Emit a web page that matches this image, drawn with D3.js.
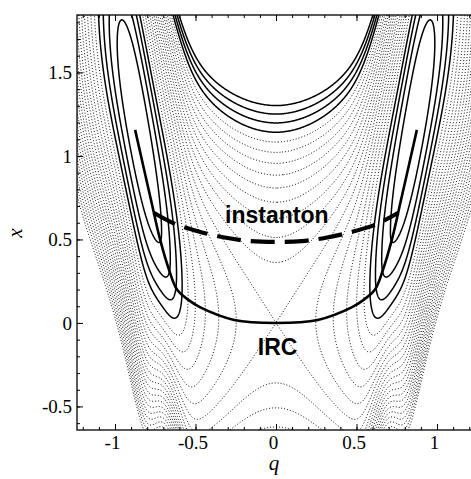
<!DOCTYPE html>
<html>
<head>
<meta charset="utf-8">
<script src="https://cdn.jsdelivr.net/npm/d3@7"></script>
<style>
body { margin: 0; background: #fff; }
svg { display: block; }
.tick text { font-family: "Liberation Serif", "Times New Roman", serif; font-size: 19px; fill: #000; }
.tick line { stroke: #000; stroke-width: 1; }
</style>
</head>
<body>
<svg id="chart" width="471" height="479"></svg>
<script>
// --- values ---
// potential: two wells at q = +-wellQ, a saddle at (0,0),
// valley in x climbing steeply between |q| ~ 0.6 and 1
var wellQ = 0.86;
var wellA = 1.5;            // quartic double well in q
var innerEdge = 0.6;        // steep inner side of the wells
var innerWidth = 0.05;
var outerK = 3;             // extra rise outside the wells
var valleyTop = 2.1;
var valleyMid = 0.83;
var valleyWidth = 0.114;
var lowStiff = 1.3;         // stiffer in x below the valley near |q| ~ 0.66
var lowMid = 0.66;
var lowWidth = 0.1;
var levelStep = 0.13;       // spacing between contour levels
var saddleLevel = 10;       // the saddle sits on the 10th level
var contourLevels = d3.range(1, 24);   // levels 1..23
var solidLow = [1, 2, 3, 4];          // drawn solid round the wells
var solidTop = [20, 21, 22, 23];      // drawn solid at the top centre

var qTicks = [-1, -0.5, 0, 0.5, 1];
var xTicks = [-0.5, 0, 0.5, 1, 1.5];
var qMinor = d3.range(-12, 13).map(d => d / 10);
var xMinor = d3.range(-6, 19).map(d => d / 10);

// minimum energy path (IRC)
var ircQ = [-0.875, -0.775, -0.72, -0.665, -0.615, -0.54, -0.47, -0.26, 0, 0.26, 0.47, 0.54, 0.615, 0.665, 0.72, 0.775, 0.875];
var ircX = [1.156, 0.73, 0.5, 0.32, 0.2, 0.135, 0.093, 0.018, 0, 0.018, 0.093, 0.135, 0.2, 0.32, 0.5, 0.73, 1.156];

// instanton path
var instQ = [-0.76, -0.62, -0.47, -0.31, -0.16, 0, 0.16, 0.31, 0.47, 0.62, 0.76];
var instX = [0.66, 0.59, 0.545, 0.51, 0.49, 0.485, 0.49, 0.51, 0.545, 0.59, 0.66];

// --- layout ---
var pLeft = 77, pRight = 475, pTop = 15, pBottom = 430;
var qScale = d3.scaleLinear().domain([-1.236, 1.236]).range([pLeft, pRight]);
var xScale = d3.scaleLinear().domain([-0.641, 1.844]).range([pBottom, pTop]);

var svg = d3.select("#chart");
var defs = svg.append("defs");
defs.append("clipPath").attr("id", "plot")
    .append("rect").attr("x", pLeft).attr("y", pTop)
    .attr("width", pRight - pLeft).attr("height", pBottom - pTop);

// region of the top centre where the high levels are drawn solid
var uq = 0.85, ux = 0.6;
var holeD = "M" + qScale(-uq) + "," + xScale(1.9) + "H" + qScale(uq) + "V" + xScale(ux) + "H" + qScale(-uq) + "Z";
defs.append("clipPath").attr("id", "topU")
    .append("path").attr("d", holeD);
defs.append("clipPath").attr("id", "noTopU")
    .append("path").attr("clip-rule", "evenodd")
    .attr("d", "M" + pLeft + "," + pTop + "H" + pRight + "V" + pBottom + "H" + pLeft + "Z " + holeD);

// --- potential on a grid ---
function sigm(t) { return 1 / (1 + Math.exp(-t)); }
function valley(q) {
    return valleyTop * sigm((Math.abs(q) - valleyMid) / valleyWidth);
}
var innerStep = saddleLevel * levelStep - wellA * Math.pow(wellQ, 4);
function V(q, x) {
    var a = Math.abs(q);
    var w = q * q - wellQ * wellQ;
    var g = wellA * w * w + innerStep * (1 - sigm((a - innerEdge) / innerWidth));
    if (a > wellQ) g += outerK * (a - wellQ) * (a - wellQ);
    var u = x - valley(q);
    var b = u < 0 ? 1 + lowStiff * Math.exp(-Math.pow((a - lowMid) / lowWidth, 2)) : 1;
    return g + b * u * u;
}
var nq = 520, nx = 520;
var qLo = -1.3, qHi = 1.3, xLo = -0.7, xHi = 1.9;
var dq = (qHi - qLo) / (nq - 1), dx = (xHi - xLo) / (nx - 1);
var values = new Float64Array(nq * nx);
for (var j = 0; j < nx; j++) {
    var xv = xHi - j * dx;
    for (var i = 0; i < nq; i++) values[j * nq + i] = V(qLo + i * dq, xv);
}
var contours = d3.contours().size([nq, nx])
    .thresholds(contourLevels.map(k => k * levelStep))(values);
contours.forEach((c, i) => c.level = contourLevels[i]);

var grid = d3.geoTransform({
    point: function (cx, cy) {
        this.stream.point(qScale(qLo + (cx - 0.5) * dq), xScale(xHi - (cy - 0.5) * dx));
    }
});
var path = d3.geoPath(grid);

var plot = svg.append("g").attr("clip-path", "url(#plot)");

// dotted contours
plot.append("g").selectAll("path")
    .data(contours.filter(c => solidLow.indexOf(c.level) < 0))
    .enter().append("path")
    .attr("d", path)
    .attr("clip-path", c => solidTop.indexOf(c.level) >= 0 ? "url(#noTopU)" : null)
    .attr("fill", "none")
    .attr("stroke", "#000")
    .attr("stroke-width", 1)
    .attr("stroke-dasharray", "1 2");

// solid contours round the wells
plot.append("g").selectAll("path")
    .data(contours.filter(c => solidLow.indexOf(c.level) >= 0))
    .enter().append("path")
    .attr("d", path)
    .attr("fill", "none")
    .attr("stroke", "#000")
    .attr("stroke-width", 1.5);

// solid high contours at the top centre
plot.append("g").attr("clip-path", "url(#topU)").selectAll("path")
    .data(contours.filter(c => solidTop.indexOf(c.level) >= 0))
    .enter().append("path")
    .attr("d", path)
    .attr("fill", "none")
    .attr("stroke", "#000")
    .attr("stroke-width", 1.5);

// IRC
var pathLine = d3.line().x(d => qScale(d[0])).y(d => xScale(d[1])).curve(d3.curveCatmullRom);
plot.append("path")
    .attr("d", pathLine(d3.zip(ircQ, ircX)))
    .attr("fill", "none").attr("stroke", "#000").attr("stroke-width", 2.6);

// instanton
plot.append("path")
    .attr("d", pathLine(d3.zip(instQ, instX)))
    .attr("fill", "none").attr("stroke", "#000").attr("stroke-width", 4.2)
    .attr("stroke-dasharray", "24 10");

// labels
svg.append("text").attr("x", qScale(0.005)).attr("y", 223)
    .attr("text-anchor", "middle")
    .style("font-family", "'Liberation Sans', Arial, sans-serif")
    .style("font-weight", "bold").style("font-size", "23px")
    .text("instanton");
svg.append("text").attr("x", qScale(0.01)).attr("y", 355)
    .attr("text-anchor", "middle")
    .style("font-family", "'Liberation Sans', Arial, sans-serif")
    .style("font-weight", "bold").style("font-size", "23px")
    .text("IRC");

// --- axes ---
var fmt = d => String(d);
var noText = g => { g.select(".domain").remove(); g.selectAll("text").remove(); };
svg.append("g").attr("transform", "translate(0," + pBottom + ")")
    .call(d3.axisBottom(qScale).tickValues(qTicks).tickSize(-6).tickPadding(6).tickFormat(fmt))
    .call(g => g.select(".domain").remove())
    .call(g => g.selectAll("text").attr("dx", -3));
svg.append("g").attr("transform", "translate(0," + pBottom + ")")
    .call(d3.axisBottom(qScale).tickValues(qMinor).tickSize(-3))
    .call(noText);
svg.append("g").attr("transform", "translate(0," + pTop + ")")
    .call(d3.axisTop(qScale).tickValues(qTicks).tickSize(-6))
    .call(noText);
svg.append("g").attr("transform", "translate(0," + pTop + ")")
    .call(d3.axisTop(qScale).tickValues(qMinor).tickSize(-3))
    .call(noText);
svg.append("g").attr("transform", "translate(" + pLeft + ",0)")
    .call(d3.axisLeft(xScale).tickValues(xTicks).tickSize(-6).tickPadding(5).tickFormat(fmt))
    .call(g => g.select(".domain").remove());
svg.append("g").attr("transform", "translate(" + pLeft + ",0)")
    .call(d3.axisLeft(xScale).tickValues(xMinor).tickSize(-3))
    .call(noText);

svg.append("rect").attr("x", pLeft).attr("y", pTop)
    .attr("width", pRight - pLeft).attr("height", pBottom - pTop)
    .attr("fill", "none").attr("stroke", "#000").attr("stroke-width", 1.3);

svg.append("text").attr("x", 274).attr("y", 470)
    .attr("text-anchor", "middle")
    .style("font-family", "'Liberation Serif', 'Times New Roman', serif")
    .style("font-style", "italic").style("font-size", "21px")
    .text("q");
svg.append("text").attr("transform", "translate(22,233) rotate(-90)")
    .attr("text-anchor", "middle")
    .style("font-family", "'Liberation Serif', 'Times New Roman', serif")
    .style("font-style", "italic").style("font-size", "21px")
    .text("x");
</script>
</body>
</html>
